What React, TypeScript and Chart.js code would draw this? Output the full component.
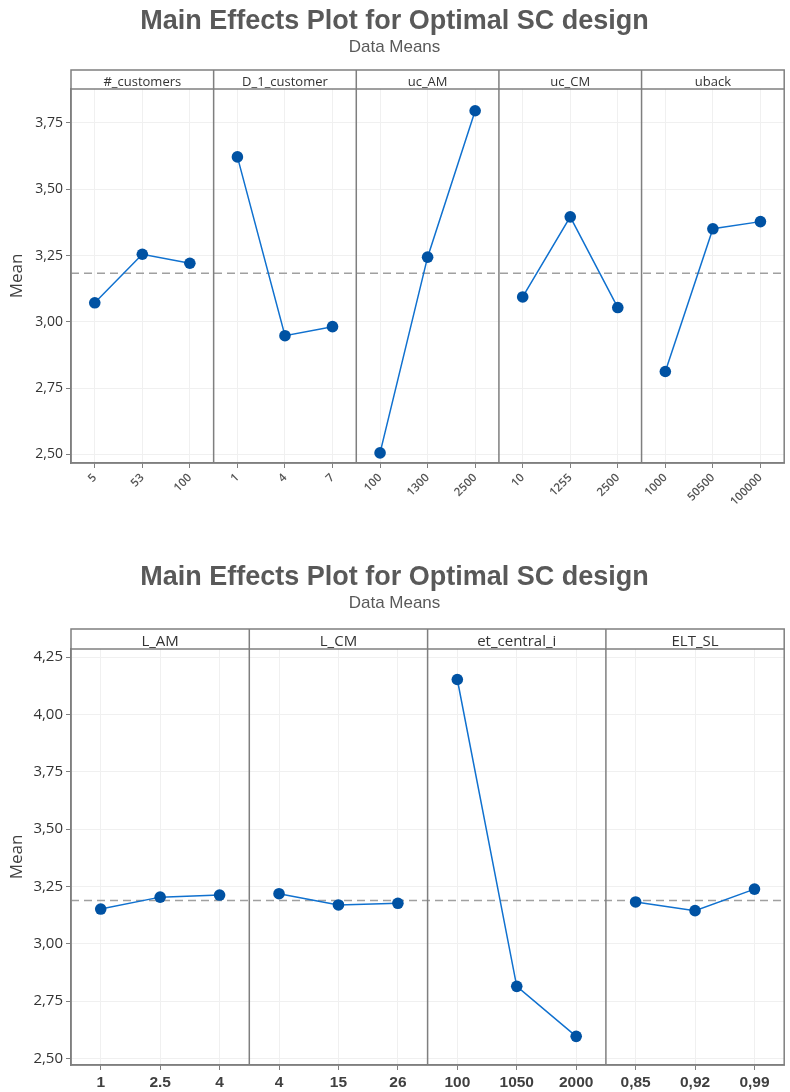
import React, { useEffect, useRef } from "react";
import { Chart, registerables } from "chart.js";

Chart.register(...registerables);

// ---------------- Figure 1 data ----------------
const factorNames1 = ["#_customers", "D_1_customer", "uc_AM", "uc_CM", "uback"];
const levelLabels1 = [
  ["5", "53", "100"],
  ["1", "4", "7"],
  ["100", "1300", "2500"],
  ["10", "1255", "2500"],
  ["1000", "50500", "100000"],
];
const customersMeans = [3.072, 3.255, 3.221];
const d1CustomerMeans = [3.622, 2.948, 2.982];
const ucAMMeans = [2.506, 3.244, 3.796];
const ucCMMeans = [3.094, 3.396, 3.054];
const ubackMeans = [2.813, 3.351, 3.378];
const yTickValues1 = [2.5, 2.75, 3.0, 3.25, 3.5, 3.75];
const grandMean1 = 3.183;

// ---------------- Figure 2 data ----------------
const factorNames2 = ["L_AM", "L_CM", "et_central_i", "ELT_SL"];
const levelLabels2 = [
  ["1", "2.5", "4"],
  ["4", "15", "26"],
  ["100", "1050", "2000"],
  ["0,85", "0,92", "0,99"],
];
const lAMMeans = [3.151, 3.203, 3.212];
const lCMMeans = [3.218, 3.169, 3.176];
const etCentralMeans = [4.152, 2.814, 2.596];
const eltSLMeans = [3.182, 3.144, 3.238];
const yTickValues2 = [2.5, 2.75, 3.0, 3.25, 3.5, 3.75, 4.0, 4.25];
const grandMean2 = 3.188;

const titleText = "Main Effects Plot for Optimal SC design";
const subtitleText = "Data Means";
const yAxisTitle = "Mean";

const FRAME = "#7f7f7f";
const GRID = "#f0f0f0";
const LINE = "#1071cf";
const MARK = "#0052a3";

type Spec = {
  factors: string[];
  levels: string[][];
  series: number[][];
  yTicks: number[];
  yMin: number;
  yMax: number;
  grandMean: number;
  titlePadTop: number;
  subPadBottom: number;
  stripHeight: number;
  stripFont: number;
  xAxisHeight: number;
  xFont: any;
  xColor: string;
  xRotation: number;
  yFont: number;
};

const panelPlugin = {
  id: "panels",
  afterDraw(chart: any, _args: any, opts: any) {
    const { ctx, chartArea } = chart;
    const { left, right, top, bottom } = chartArea;
    const xs = chart.scales.x;
    const factors: string[] = opts.factors;
    const sh: number = opts.stripHeight;
    ctx.save();
    ctx.strokeStyle = FRAME;
    ctx.lineWidth = 1.5;
    ctx.strokeRect(left, top - sh, right - left, bottom - top + sh);
    ctx.beginPath();
    ctx.moveTo(left, top);
    ctx.lineTo(right, top);
    ctx.stroke();
    ctx.fillStyle = "#333333";
    ctx.font = `${opts.stripFont}px 'Open Sans', 'Noto Sans', sans-serif`;
    ctx.textAlign = "center";
    ctx.textBaseline = "alphabetic";
    factors.forEach((f, i) => {
      if (i > 0) {
        const x = xs.getPixelForValue(i * 3 - 0.5);
        ctx.beginPath();
        ctx.moveTo(x, top - sh);
        ctx.lineTo(x, bottom);
        ctx.stroke();
      }
      const cx = xs.getPixelForValue(i * 3 + 1);
      ctx.fillText(f, cx, top - 3);
    });
    ctx.restore();
  },
};

function buildConfig(s: Spec): any {
  const n = s.factors.length;
  const xLabels = s.levels.flat();
  const xPositions = xLabels.map((_, i) => i);
  const datasets: any[] = [
    {
      label: "mean",
      data: [
        { x: -0.5, y: s.grandMean },
        { x: n * 3 - 0.5, y: s.grandMean },
      ],
      showLine: true,
      borderColor: "#a0a0a0",
      borderDash: [8, 5],
      borderWidth: 1.5,
      pointRadius: 0,
      order: 2,
    },
    ...s.series.map((vals, i) => ({
      label: s.factors[i],
      data: vals.map((v, j) => ({ x: i * 3 + j, y: v })),
      showLine: true,
      borderColor: LINE,
      borderWidth: 1.5,
      pointRadius: 5.8,
      pointBackgroundColor: MARK,
      pointBorderColor: MARK,
      pointBorderWidth: 0,
      order: 1,
    })),
  ];
  return {
    type: "scatter",
    data: { datasets },
    plugins: [panelPlugin],
    options: {
      responsive: false,
      animation: false,
      events: [],
      layout: { padding: { top: 0, left: 0, right: 1, bottom: 0 } },
      plugins: {
        legend: { display: false },
        tooltip: { enabled: false },
        title: {
          display: true,
          text: titleText,
          color: "#595959",
          font: { family: "'Liberation Sans', Arial, sans-serif", size: 27, weight: "bold" },
          padding: { top: s.titlePadTop, bottom: 0 },
        },
        subtitle: {
          display: true,
          text: subtitleText,
          color: "#595959",
          font: { family: "'Liberation Sans', Arial, sans-serif", size: 17, weight: "normal" },
          padding: { top: 0, bottom: s.subPadBottom },
        },
        panels: { factors: s.factors, stripHeight: s.stripHeight, stripFont: s.stripFont },
      },
      scales: {
        x: {
          type: "linear",
          min: -0.5,
          max: n * 3 - 0.5,
          afterBuildTicks: (scale: any) => {
            scale.ticks = xPositions.map((v) => ({ value: v }));
          },
          afterFit: (scale: any) => {
            scale.height = s.xAxisHeight;
          },
          grid: { color: GRID, tickColor: FRAME, tickLength: 5, lineWidth: 1 },
          border: { color: FRAME, width: 1.5 },
          ticks: {
            autoSkip: false,
            maxRotation: s.xRotation,
            minRotation: s.xRotation,
            padding: 3,
            color: s.xColor,
            font: s.xFont,
            callback: (_v: any, i: number) => xLabels[i],
          },
        },
        y: {
          type: "linear",
          min: s.yMin,
          max: s.yMax,
          afterBuildTicks: (scale: any) => {
            scale.ticks = s.yTicks.map((v) => ({ value: v }));
          },
          afterFit: (scale: any) => {
            scale.width = 71;
          },
          grid: { color: GRID, tickColor: FRAME, tickLength: 5, lineWidth: 1 },
          border: { color: FRAME, width: 1.5 },
          title: {
            display: true,
            text: yAxisTitle,
            color: "#404040",
            font: { family: "'Open Sans', 'Noto Sans', sans-serif", size: 17 },
            padding: { top: 7, bottom: 0 },
          },
          ticks: {
            padding: 3,
            color: "#333333",
            font: { family: "'Open Sans', 'Noto Sans', sans-serif", size: s.yFont },
            callback: (v: any) => Number(v).toFixed(2).replace(".", ","),
          },
        },
      },
    },
  };
}

const spec1: Spec = {
  factors: factorNames1,
  levels: levelLabels1,
  series: [customersMeans, d1CustomerMeans, ucAMMeans, ucCMMeans, ubackMeans],
  yTicks: yTickValues1,
  yMin: 2.468,
  yMax: 3.878,
  grandMean: grandMean1,
  titlePadTop: 5,
  subPadBottom: 31.2,
  stripHeight: 19,
  stripFont: 13,
  xAxisHeight: 45,
  xFont: { family: "'Open Sans', 'Noto Sans', sans-serif", size: 11.5, weight: "600" },
  xColor: "#555555",
  xRotation: 45,
  yFont: 14,
};

const spec2: Spec = {
  factors: factorNames2,
  levels: levelLabels2,
  series: [lAMMeans, lCMMeans, etCentralMeans, eltSLMeans],
  yTicks: yTickValues2,
  yMin: 2.471,
  yMax: 4.285,
  grandMean: grandMean2,
  titlePadTop: 1,
  subPadBottom: 35.2,
  stripHeight: 20,
  stripFont: 15,
  xAxisHeight: 27,
  xFont: { family: "'Liberation Sans', Arial, sans-serif", size: 15.5, weight: "bold" },
  xColor: "#404040",
  xRotation: 0,
  yFont: 15,
};

function Panel({ spec, top, height }: { spec: Spec; top: number; height: number }) {
  const ref = useRef<HTMLCanvasElement | null>(null);
  useEffect(() => {
    if (!ref.current) return;
    const chart = new Chart(ref.current, buildConfig(spec));
    return () => chart.destroy();
  }, [spec]);
  return (
    <canvas
      ref={ref}
      width={790}
      height={height}
      style={{ position: "absolute", left: 0, top, width: 790, height }}
    />
  );
}

export default function App() {
  return (
    <div style={{ position: "absolute", left: 0, top: 0, width: 790, height: 1092, background: "#ffffff" }}>
      <Panel spec={spec1} top={0} height={508} />
      <Panel spec={spec2} top={560} height={532} />
    </div>
  );
}
